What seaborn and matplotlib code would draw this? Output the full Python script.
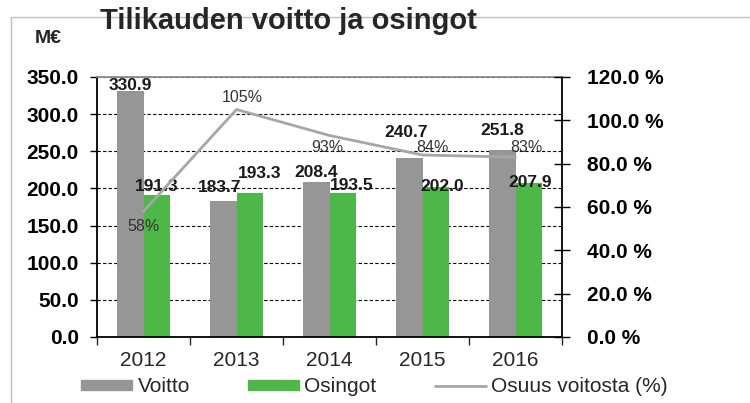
import seaborn as sns
import matplotlib.pyplot as plt
import matplotlib.ticker as mticker
from matplotlib.lines import Line2D
from matplotlib.patches import Patch
import pandas as pd
import numpy as np

# Chart data
years = ['2012', '2013', '2014', '2015', '2016']
voitto = [330.9, 183.7, 208.4, 240.7, 251.8]
osingot = [191.3, 193.3, 193.5, 202.0, 207.9]
osuus = [58, 105, 93, 84, 83]

# Label nudges (pixels), Excel-style manual placement
voitto_off = [(0, 6), (-4, 13), (0, 10), (-3, 26), (0, 19)]
osingot_off = [(0, 8), (10, 20), (9, 8), (6, 0), (1, 0)]
osuus_off = [(0, -15), (6, 12), (-2, -12), (10, 8), (11, 10)]

gray = '#969696'
green = '#4DB848'
line_gray = '#A6A6A6'

sns.set_style('white')
plt.rcParams['font.family'] = ['Liberation Sans', 'DejaVu Sans']

df = pd.DataFrame({'Vuosi': years * 2,
                   'Arvo': voitto + osingot,
                   'Sarja': ['Voitto'] * len(years) + ['Osingot'] * len(years)})

fig = plt.figure(figsize=(7.5, 4.03), dpi=100)
ax = fig.add_axes([97 / 750, 1 - 337 / 403, (562 - 97) / 750, (337 - 77) / 403])

sns.barplot(data=df, x='Vuosi', y='Arvo', hue='Sarja', palette=[gray, green],
            width=0.57, saturation=1, linewidth=0, ax=ax, legend=False)
ax.set_xlim(-0.5, len(years) - 0.5)
ax.set_ylim(0, 350)
ax.set_xlabel('')
ax.set_ylabel('')
ax.set_axisbelow(True)

# dashed gridlines at left axis ticks
ax.yaxis.set_major_locator(mticker.MultipleLocator(50))
ax.yaxis.set_major_formatter(mticker.FuncFormatter(lambda v, p: f'{v:.1f}'))
ax.grid(axis='y', color='black', linestyle=(0, (3, 2)), linewidth=0.8)
ax.grid(axis='x', visible=False)

for side in ['left', 'bottom', 'right']:
    ax.spines[side].set_color('black')
    ax.spines[side].set_linewidth(1.3)
ax.spines['top'].set_color('#8C8C8C')
ax.spines['top'].set_linewidth(1.3)

ax.tick_params(axis='y', left=True, direction='out', length=5, width=1,
               labelsize=15, pad=8, colors='black')
for lbl in ax.get_yticklabels():
    lbl.set_fontweight('bold')

# category ticks at boundaries
ax.xaxis.set_minor_locator(mticker.FixedLocator(np.arange(-0.5, len(years), 1)))
ax.tick_params(axis='x', which='major', length=0, labelsize=15, pad=10)
ax.tick_params(axis='x', which='minor', bottom=True, direction='out', length=6, width=1)

# bar value labels
for cont, vals, offs in zip(ax.containers, [voitto, osingot], [voitto_off, osingot_off]):
    for bar, v, (dx, dy) in zip(cont, vals, offs):
        ax.annotate(f'{v:.1f}', (bar.get_x() + bar.get_width() / 2, v),
                    xytext=(dx, dy), textcoords='offset pixels',
                    ha='center', va='center', fontsize=12.5, fontweight='bold',
                    color='#1A1A1A')

# payout ratio line on right axis
ax2 = ax.twinx()
xpos = np.arange(len(years))
sns.lineplot(x=xpos, y=osuus, ax=ax2, color=line_gray, linewidth=2, legend=False)
ax2.set_ylim(0, 120)
ax2.set_xlim(-0.5, len(years) - 0.5)
ax2.yaxis.set_major_locator(mticker.MultipleLocator(20))
ax2.yaxis.set_major_formatter(mticker.FuncFormatter(lambda v, p: f'{v:.1f} %'))
ax2.tick_params(axis='y', right=True, direction='inout', length=12, width=1,
                labelsize=15, pad=12, colors='black')
for lbl in ax2.get_yticklabels():
    lbl.set_fontweight('bold')
ax2.set_ylabel('')
for sp in ax2.spines.values():
    sp.set_visible(False)

for x, v, (dx, dy) in zip(xpos, osuus, osuus_off):
    ax2.annotate(f'{v}%', (x, v), xytext=(dx, dy), textcoords='offset pixels',
                 ha='center', va='center', fontsize=11.5, color='#333333')

# titles
fig.text(100 / 750, 1 - 29.3 / 403, 'Tilikauden voitto ja osingot',
         fontsize=21, fontweight='bold', ha='left', va='baseline')
fig.text(48 / 750, 1 - 43 / 403, 'M€', fontsize=14, fontweight='bold',
         ha='center', va='baseline')

# outer light frame
fig.add_artist(Line2D([11 / 750, 1], [1 - 17 / 403, 1 - 17 / 403],
                      transform=fig.transFigure, color='#BFBFBF', linewidth=1, zorder=0))
fig.add_artist(Line2D([11 / 750, 11 / 750], [0, 1 - 17 / 403],
                      transform=fig.transFigure, color='#BFBFBF', linewidth=1, zorder=0))

# legend
handles = [Patch(color=gray), Patch(color=green), Line2D([], [], color=line_gray, linewidth=2)]
fig.legend(handles, ['Voitto', 'Osingot', 'Osuus voitosta (%)'], loc='center',
           bbox_to_anchor=(374.5 / 750, 1 - 387 / 403), ncol=3, frameon=False,
           fontsize=15, handlelength=2.45, handleheight=0.42, handletextpad=0.25,
           columnspacing=2.8, borderpad=0)

fig.savefig('out.png', dpi=100)
